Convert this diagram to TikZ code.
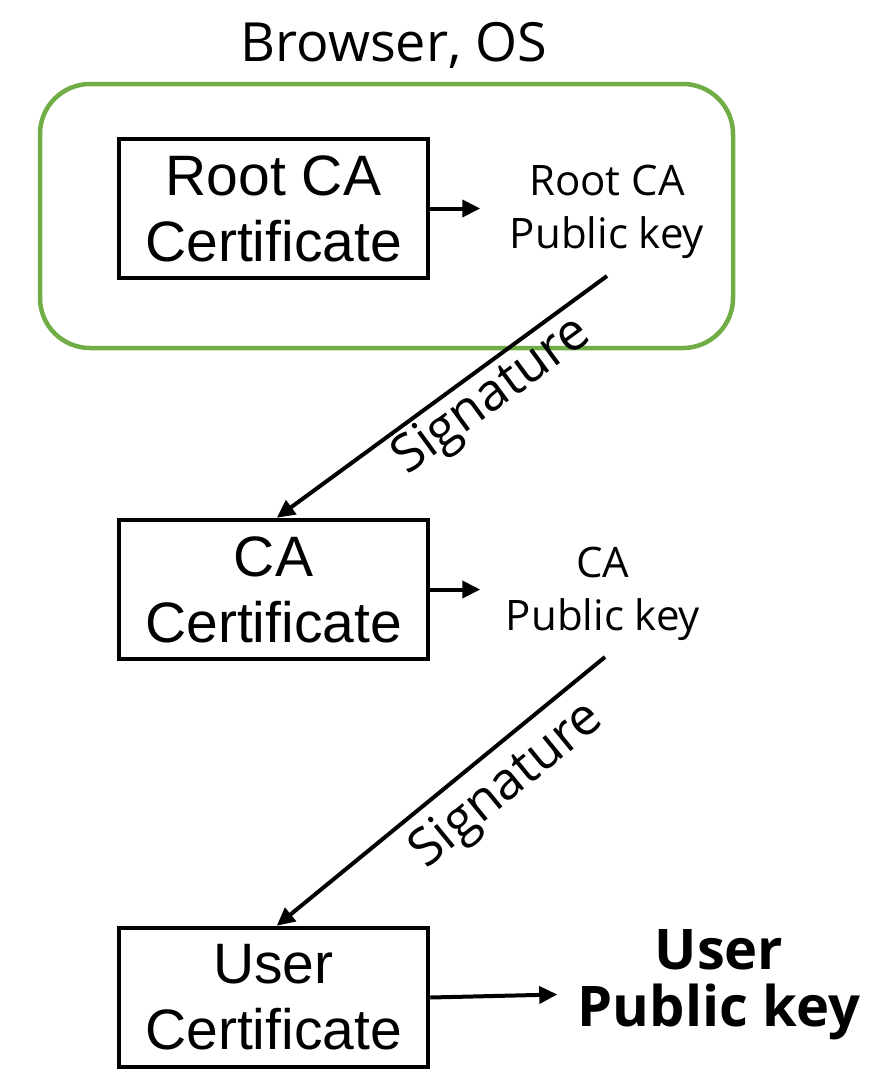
\documentclass[tikz,border=0pt]{standalone}
\usepackage{fontspec}
\setmainfont{Open Sans}
\newfontfamily\boxfont{Liberation Sans}
\usepackage{xcolor}
\usetikzlibrary{arrows.meta, positioning, calc}
\definecolor{officegreen}{HTML}{70AD47}
\tikzset{
  certbox/.style={draw=black, line width=4.5pt, minimum width=309pt, minimum height=139pt,
    align=center, font=\boxfont\fontsize{57}{66}\selectfont, inner sep=0pt},
  keylabel/.style={align=center, font=\fontsize{42}{53}\selectfont, inner sep=0pt},
  arr/.style={-{Triangle[length=18pt,width=17pt]}, line width=4pt},
  siglabel/.style={font=\fontsize{52}{60}\selectfont, inner sep=3pt}
}
\begin{document}
\begin{tikzpicture}[x=1pt, y=-1pt]
    \useasboundingbox (0,0) rectangle (870,1092);

    % Browser / OS container
    \draw[officegreen, line width=4.5pt, rounded corners=50pt] (40,84) rectangle (733,348);
    \node[font=\fontsize{54}{60}\selectfont] (browser) at (394,45) {Browser, OS};

    % Certificates
    \node[certbox] (root) at (273.5,208.5) {Root CA\\Certificate};
    \node[certbox] (ca) at (273.5,589.5) {CA\\Certificate};
    \node[certbox] (user) at (273.5,997.5) {User\\Certificate};

    % Public keys
    \node[keylabel] (rootkey) at (607,212) {Root CA\\Public key};
    \node[keylabel] (cakey) at (603,594) {CA\\Public key};
    \node[keylabel, font=\bfseries\fontsize{56}{57}\selectfont] (userkey) at (719,985) {User\\Public key};

    % Key extraction
    \draw[arr] (root.east) -- ++(50,0);
    \draw[arr] (ca.east) -- ++(50,0);
    \draw[arr] (user.east) -- ++(127,-3);

    % Signatures
    \coordinate (sigstart1) at (607,276);
    \coordinate (sigstart2) at (605,657);
    \draw[arr] (sigstart1) -- ($(ca.north west)+(160,0)$)
      node[siglabel, pos=0.4, sloped, below] {Signature};
    \draw[arr] (sigstart2) -- ($(user.north west)+(160,0)$)
      node[siglabel, pos=0.37, sloped, below, yshift=-8pt] {Signature};
\end{tikzpicture}
\end{document}
